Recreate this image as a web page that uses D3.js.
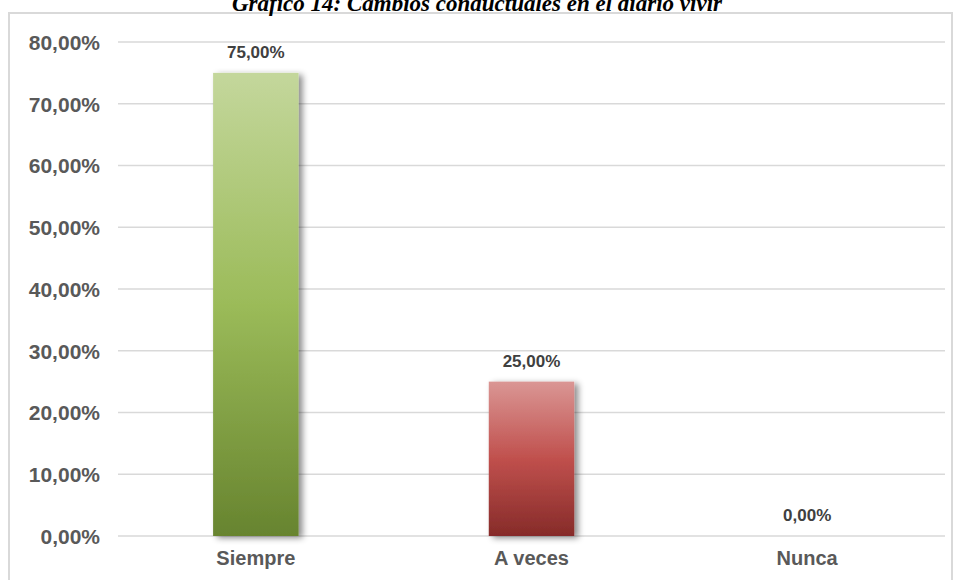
<!DOCTYPE html>
<html>
<head>
<meta charset="utf-8">
<script src="https://cdn.jsdelivr.net/npm/d3@7"></script>
<style>
  body { margin: 0; background: #fff; }
  svg { display: block; }
  .tick text { font-family: "Liberation Sans", Arial, sans-serif; font-weight: bold; fill: #595959; }
</style>
</head>
<body>
<svg id="chart"></svg>
<script>
// data
const categories = ["Siempre", "A veces", "Nunca"];
const values = [75, 25, 0];
const yTicks = [0, 10, 20, 30, 40, 50, 60, 70, 80];
const titleText = "Gráfico 14: Cambios conductuales en el diario vivir";

const width = 953, height = 580;
const margin = { top: 42, right: 8, bottom: 44, left: 118 };
const innerW = width - margin.left - margin.right;
const innerH = height - margin.top - margin.bottom;

const svg = d3.select("#chart").attr("width", width).attr("height", height);

// gradients + shadow
const defs = svg.append("defs");
const grads = [
  { id: "gGreen", stops: ["#c4d79c", "#9bbb59", "#67842f"] },
  { id: "gRed", stops: ["#da9694", "#c0504d", "#862b29"] },
  { id: "gGrey", stops: ["#ccc", "#aaa", "#888"] }
];
grads.forEach(g => {
  const lg = defs.append("linearGradient").attr("id", g.id)
    .attr("x1", 0).attr("y1", 0).attr("x2", 0).attr("y2", 1);
  g.stops.forEach((c, i) => lg.append("stop").attr("offset", (i / 2) * 100 + "%").attr("stop-color", c));
});
const f = defs.append("filter").attr("id", "shadow")
  .attr("x", "-20%").attr("y", "-5%").attr("width", "160%").attr("height", "115%");
f.append("feDropShadow").attr("dx", 4).attr("dy", 2).attr("stdDeviation", 3)
  .attr("flood-color", "#000").attr("flood-opacity", 0.45);

// outer frame
svg.append("rect")
  .attr("x", 9).attr("y", 13)
  .attr("width", width - 10).attr("height", height)
  .attr("fill", "none").attr("stroke", "#d9d9d9").attr("stroke-width", 2);

// title (cut at the top like the source image)
svg.append("text")
  .attr("x", 477).attr("y", 11)
  .attr("text-anchor", "middle")
  .attr("font-family", "'Liberation Serif', 'Times New Roman', serif")
  .attr("font-weight", "bold").attr("font-style", "italic")
  .attr("font-size", 23)
  .text(titleText);

const g = svg.append("g").attr("transform", "translate(" + margin.left + "," + margin.top + ")");

const x = d3.scaleBand().domain(categories).range([0, innerW]).paddingInner(0.69).paddingOuter(0.345);
const y = d3.scaleLinear().domain([0, 80]).range([innerH, 0]);
const fmt = v => d3.format(".2f")(v).replace(".", ",") + "%";

// y axis + gridlines
const yAxis = d3.axisLeft(y).tickValues(yTicks).tickSize(0).tickPadding(18).tickFormat(fmt);
const gy = g.append("g").call(yAxis);
gy.select(".domain").remove();
gy.selectAll("text").attr("font-size", 21).attr("dy", "0.35em");

g.append("g").selectAll("line").data(yTicks).enter().append("line")
  .attr("x1", 0).attr("x2", innerW)
  .attr("y1", d => y(d)).attr("y2", d => y(d))
  .attr("stroke", "#d9d9d9").attr("stroke-width", 1.5);

// bars
const fills = ["url(#gGreen)", "url(#gRed)", "url(#gGrey)"];
g.append("g").selectAll("rect").data(values).enter().append("rect")
  .attr("x", (d, i) => x(categories[i]))
  .attr("y", d => y(d))
  .attr("width", x.bandwidth())
  .attr("height", d => innerH - y(d))
  .attr("fill", (d, i) => fills[i])
  .attr("filter", "url(#shadow)");

// value labels
g.append("g").selectAll("text").data(values).enter().append("text")
  .attr("x", (d, i) => x(categories[i]) + x.bandwidth() / 2)
  .attr("y", d => y(d) - 15)
  .attr("text-anchor", "middle")
  .attr("font-family", "'Liberation Sans', Arial, sans-serif")
  .attr("font-weight", "bold").attr("font-size", 17)
  .attr("fill", "#404040")
  .text(d => fmt(d));

// x axis
const xAxis = d3.axisBottom(x).tickSize(0).tickPadding(15);
const gx = g.append("g").attr("transform", "translate(0," + innerH + ")").call(xAxis);
gx.select(".domain").remove();
gx.selectAll("text").attr("font-size", 20);
</script>
</body>
</html>
